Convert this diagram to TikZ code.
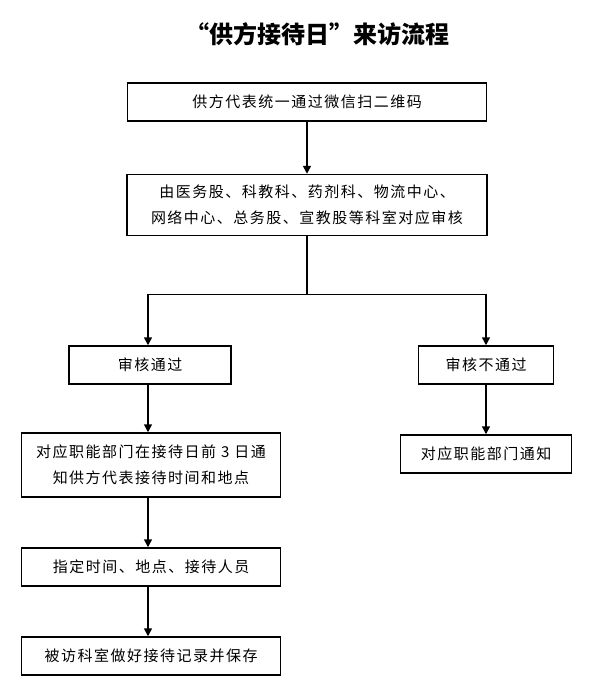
\documentclass[tikz,border=0pt]{standalone}
\usepackage{fontspec}
\newfontfamily\cjk[LetterSpace=10]{Noto Sans CJK SC}
\newfontfamily\cjktitle{Noto Sans CJK SC}
\usetikzlibrary{arrows.meta,positioning}

\begin{document}
\begin{tikzpicture}[
    x=1pt, y=-1pt,
    box/.style={draw, line width=1.5pt, minimum height=38pt, inner sep=0pt, align=center,
                font=\cjk\fontsize{15}{26}\selectfont},
    arrow/.style={-{Triangle[length=8pt,width=8pt]}, line width=1.5pt},
    link/.style={line width=1.5pt}
]
\useasboundingbox (0,0) rectangle (592,699);
\node[font=\cjktitle\bfseries\fontsize{24}{28}\selectfont] (title) at (317,34) {“供方接待日”来访流程};
% main column
\node[box, minimum width=359pt] (scan) at (307,102) {供方代表统一通过微信扫二维码};
\node[box, minimum width=360pt, minimum height=61pt] (review) at (307,205)
    {由医务股、科教科、药剂科、物流中心、\\网络中心、总务股、宣教股等科室对应审核};
\draw[arrow] (scan) -- (review);
\coordinate[below=58pt of review.south] (split);
% left branch
\node[box, minimum width=162pt] (pass) at (150,365) {审核通过};
\node[box, minimum width=259pt, minimum height=64pt] (notify) at (151,465)
    {对应职能部门在接待日前 3 日通\\知供方代表接待时间和地点};
\node[box, minimum width=259pt] (assign) at (151,567) {指定时间、地点、接待人员};
\node[box, minimum width=259pt] (record) at (151,656) {被访科室做好接待记录并保存};
% right branch
\node[box, minimum width=135pt] (fail) at (486,365) {审核不通过};
\node[box, minimum width=171pt] (inform) at (486,454) {对应职能部门通知};
\draw[link] (review) -- (split);
\draw[arrow] (split) -| (pass.north -| 148,0);
\draw[arrow] (split) -| (fail);
\draw[arrow] (pass.south -| 148,0) -- (notify.north -| 148,0);
\draw[arrow] (notify.south -| 148,0) -- (assign.north -| 148,0);
\draw[arrow] (assign.south -| 148,0) -- (record.north -| 148,0);
\draw[arrow] (fail) -- (inform);
\end{tikzpicture}
\end{document}
